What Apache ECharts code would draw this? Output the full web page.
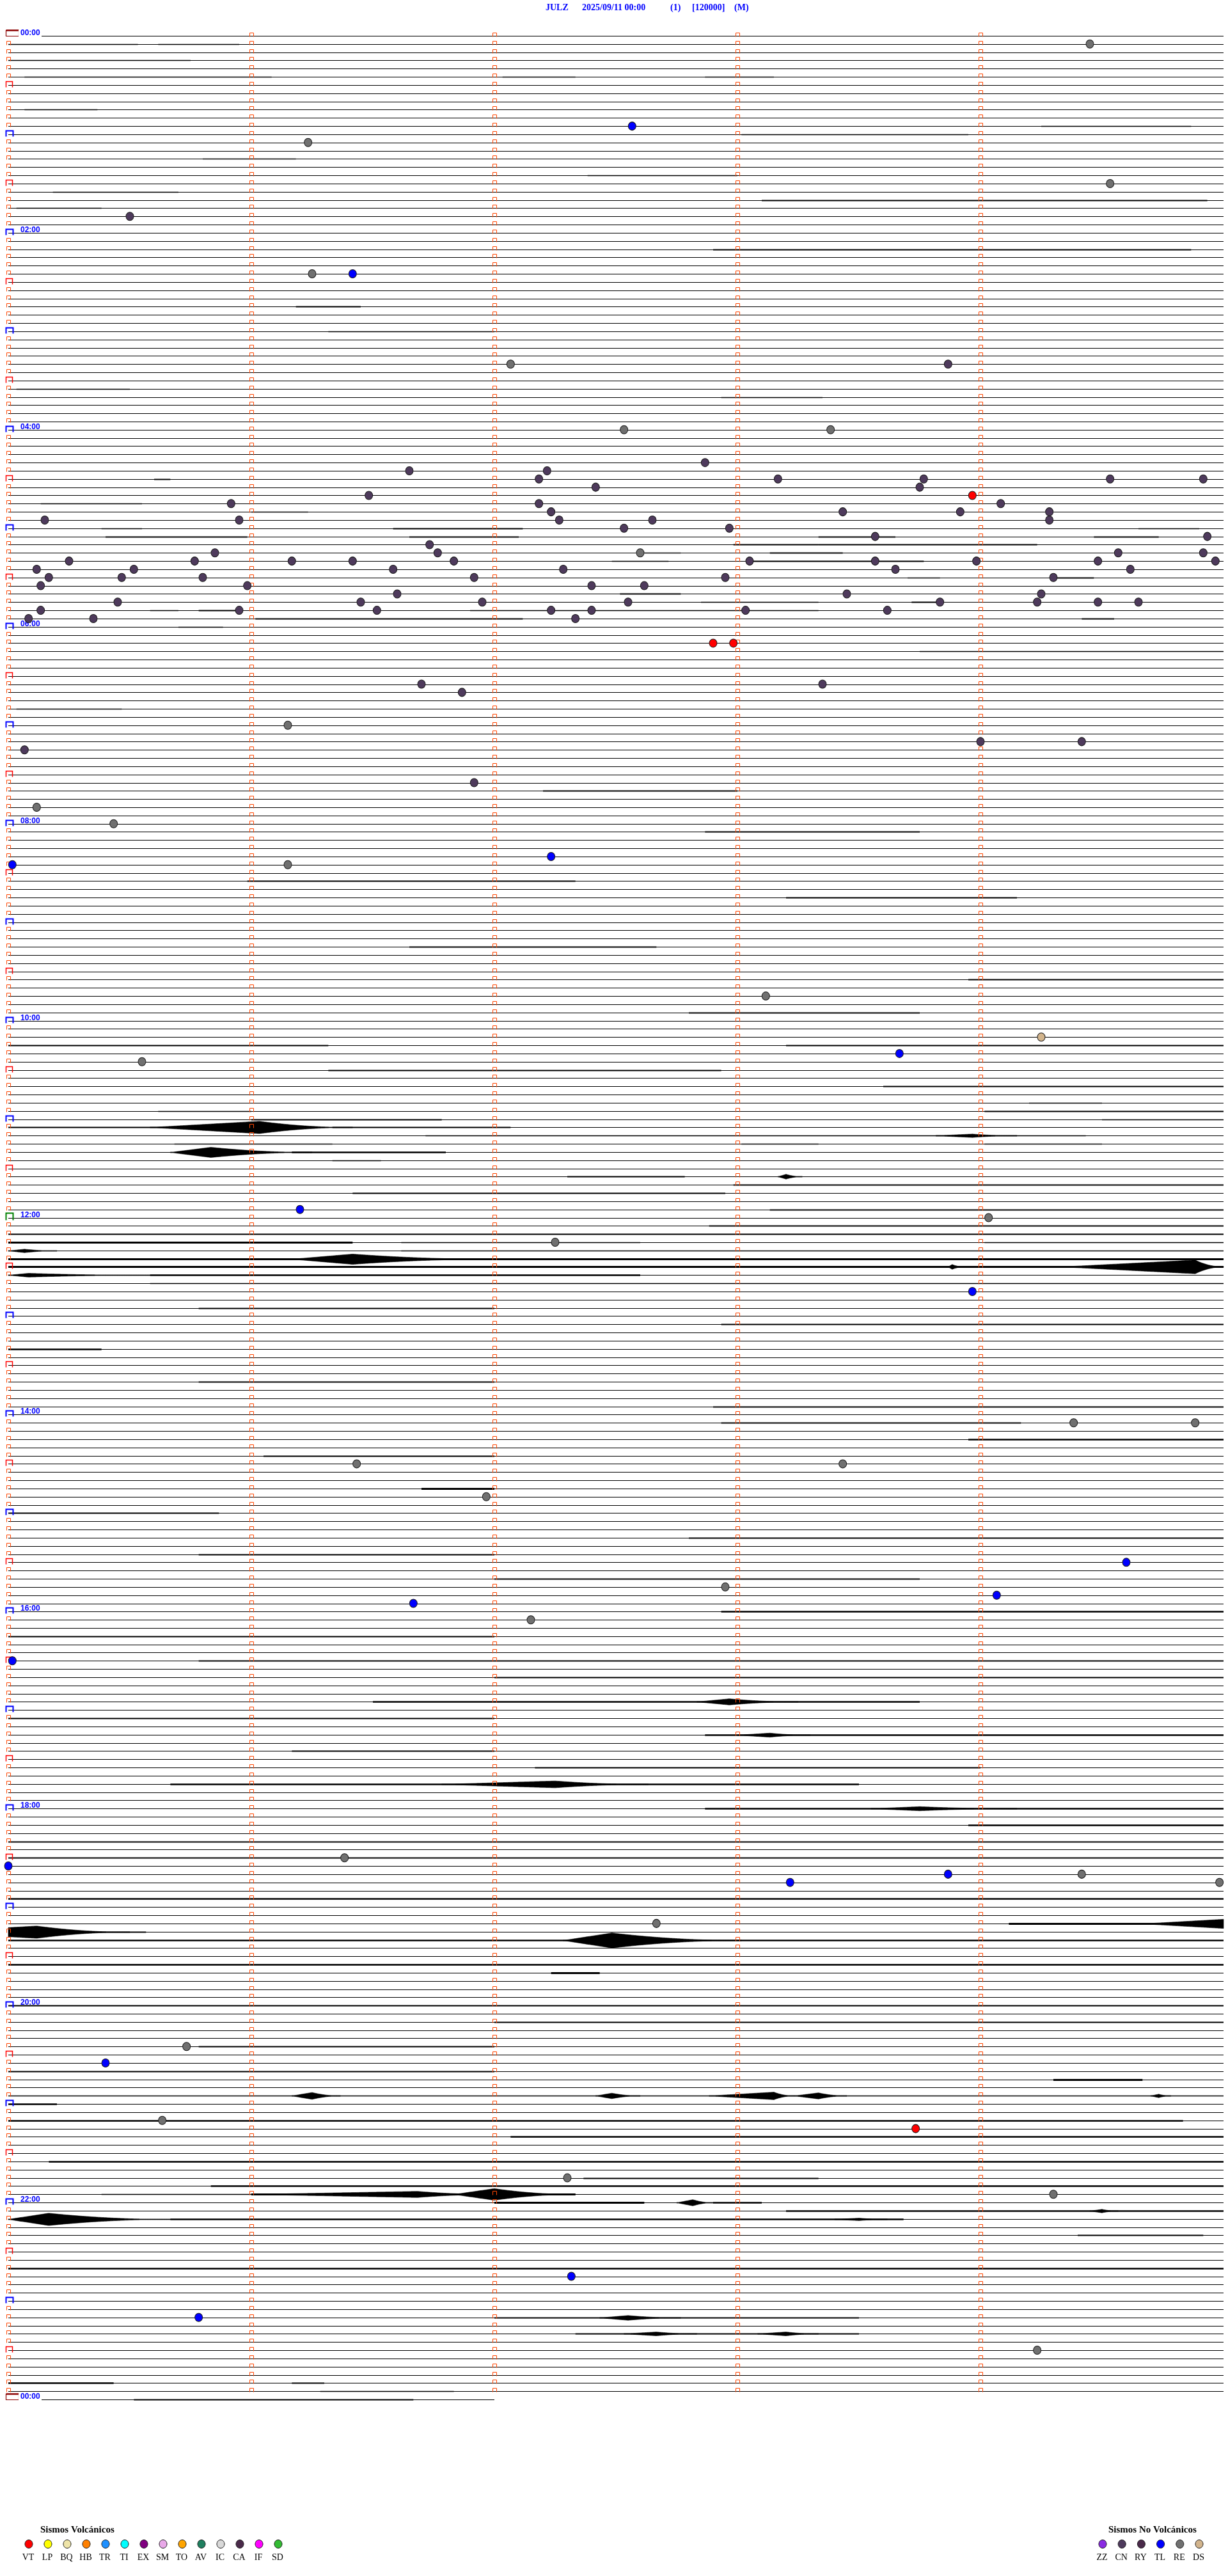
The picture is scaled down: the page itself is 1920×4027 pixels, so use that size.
<!DOCTYPE html>
<html>
<head>
<meta charset="utf-8">
<title>JULZ 2025/09/11</title>
<script src="https://cdn.jsdelivr.net/npm/echarts@6/dist/echarts.min.js"></script>
<style>
  html, body { margin: 0; padding: 0; background: #fff; }
  #chart { width: 1920px; height: 4027px; }
</style>
</head>
<body>
<div id="chart"></div>
<script>
// ---- datos del helicorder ----
const titleParts = ['JULZ', '2025/09/11 00:00', '(1)', '[120000]', '(M)'];
const traceStart = '00:00:00';
const traceEnd = '24:02:00';
const hourLabels = ['00:00', '02:00', '04:00', '06:00', '08:00', '10:00', '12:00',
  '14:00', '16:00', '18:00', '20:00', '22:00', '00:00'];

const volcanicCodes = ['VT', 'LP', 'BQ', 'HB', 'TR', 'TI', 'EX', 'SM', 'TO', 'AV', 'IC', 'CA', 'IF', 'SD'];
const volcanicColors = ['#ff0000', '#ffff00', '#eee4a8', '#ff8000', '#1e90ff', '#00ffff', '#800080',
  '#e8a8e8', '#ffa500', '#1f7f5f', '#d8d8d8', '#4a2a4a', '#ff00ff', '#33bb33'];
const otherCodes = ['ZZ', 'CN', 'RY', 'TL', 'RE', 'DS'];
const otherColors = ['#8a2be2', '#4e3a5c', '#4a2a4a', '#0000ff', '#707070', '#d2b48c'];

// eventos clasificados [hora, tipo]
const events = [
  ['00:09:27', 'RE'], ['00:57:34', 'TL'], ['01:06:14', 'RE'], ['01:34:32', 'RE'], ['01:50:30', 'CN'],
  ['02:26:15', 'RE'], ['02:26:25', 'TL'], ['03:22:04', 'RE'], ['03:23:52', 'CN'], ['04:02:32', 'RE'],
  ['04:03:23', 'RE'], ['04:22:52', 'CN'], ['04:26:39', 'CN'], ['04:27:13', 'CN'], ['04:32:11', 'CN'],
  ['04:33:10', 'CN'], ['04:33:46', 'CN'], ['04:34:32', 'CN'], ['04:34:55', 'CN'], ['04:37:25', 'CN'],
  ['04:38:45', 'CN'], ['04:41:29', 'CN'], ['04:43:58', 'VT'], ['04:45:55', 'CN'], ['04:47:11', 'CN'],
  ['04:49:05', 'CN'], ['04:52:14', 'CN'], ['04:53:26', 'CN'], ['04:53:55', 'CN'], ['04:54:17', 'CN'],
  ['04:55:09', 'CN'], ['04:55:57', 'CN'], ['04:57:16', 'CN'], ['04:57:39', 'CN'], ['04:59:17', 'CN'],
  ['05:02:32', 'CN'], ['05:02:58', 'CN'], ['05:08:34', 'CN'], ['05:09:56', 'CN'], ['05:11:44', 'CN'],
  ['05:15:51', 'CN'], ['05:16:46', 'CN'], ['05:17:36', 'RE'], ['05:19:34', 'CN'], ['05:19:55', 'CN'],
  ['05:20:15', 'CN'], ['05:20:46', 'CN'], ['05:21:10', 'CN'], ['05:21:25', 'CN'], ['05:21:50', 'CN'],
  ['05:23:03', 'CN'], ['05:23:34', 'CN'], ['05:23:59', 'CN'], ['05:24:29', 'CN'], ['05:24:58', 'CN'],
  ['05:25:07', 'CN'], ['05:25:31', 'CN'], ['05:26:35', 'CN'], ['05:27:17', 'CN'], ['05:28:39', 'CN'],
  ['05:29:37', 'CN'], ['05:30:10', 'CN'], ['05:30:28', 'CN'], ['05:30:48', 'CN'], ['05:31:55', 'CN'],
  ['05:32:57', 'CN'], ['05:34:18', 'CN'], ['05:35:08', 'CN'], ['05:35:59', 'CN'], ['05:37:24', 'CN'],
  ['05:37:37', 'CN'], ['05:41:36', 'CN'], ['05:43:27', 'CN'], ['05:44:15', 'CN'], ['05:45:27', 'CN'],
  ['05:46:27', 'CN'], ['05:46:57', 'CN'], ['05:47:33', 'CN'], ['05:48:50', 'CN'], ['05:49:14', 'CN'],
  ['05:49:29', 'CN'], ['05:49:39', 'CN'], ['05:50:08', 'CN'], ['05:50:57', 'CN'], ['05:51:31', 'CN'],
  ['05:52:14', 'CN'], ['05:52:24', 'CN'], ['05:53:02', 'CN'], ['05:53:37', 'CN'], ['05:55:05', 'CN'],
  ['05:55:21', 'CN'], ['05:57:20', 'CN'], ['06:12:54', 'VT'], ['06:12:59', 'VT'], ['06:36:42', 'CN'],
  ['06:38:21', 'CN'], ['06:41:52', 'CN'], ['07:01:09', 'RE'], ['07:14:00', 'CN'], ['07:14:25', 'CN'],
  ['07:15:04', 'CN'], ['07:36:55', 'CN'], ['07:50:07', 'RE'], ['08:00:26', 'RE'], ['08:22:14', 'TL'],
  ['08:25:01', 'TL'], ['08:26:09', 'RE'], ['09:48:07', 'RE'], ['10:14:15', 'DS'], ['10:23:40', 'TL'],
  ['10:25:33', 'RE'], ['11:56:12', 'TL'], ['12:04:02', 'RE'], ['12:17:15', 'RE'], ['12:48:58', 'TL'],
  ['14:09:23', 'RE'], ['14:09:53', 'RE'], ['14:31:26', 'RE'], ['14:33:26', 'RE'], ['14:51:58', 'RE'],
  ['15:34:36', 'TL'], ['15:47:57', 'RE'], ['15:54:04', 'TL'], ['15:56:40', 'TL'], ['16:07:09', 'RE'],
  ['16:30:01', 'TL'], ['18:31:23', 'RE'], ['18:35:00', 'TL'], ['18:43:52', 'TL'], ['18:44:25', 'RE'],
  ['18:48:13', 'TL'], ['18:49:59', 'RE'], ['19:12:40', 'RE'], ['20:25:44', 'RE'], ['20:35:24', 'TL'],
  ['21:10:38', 'RE'], ['21:18:44', 'VT'], ['21:47:18', 'RE'], ['21:59:18', 'RE'], ['22:47:19', 'TL'],
  ['23:10:47', 'TL'], ['23:34:14', 'RE']
];

// señales: [inicio, pico, fin, amplitud en cuentas]
const bursts = [
  ['11:05:35', '11:06:02', '11:06:25', 90000], ['11:13:49', '11:13:58', '11:14:09', 25000],
  ['11:20:40', '11:20:50', '11:21:15', 75000], ['11:38:10', '11:38:12', '11:38:16', 35000],
  ['12:20:00', '12:20:04', '12:20:12', 25000], ['12:26:10', '12:26:25', '12:27:00', 75000],
  ['12:33:52', '12:33:53', '12:33:56', 35000], ['12:34:20', '12:34:53', '12:35:00', 100000],
  ['12:35:00', '12:35:05', '12:35:35', 28000], ['16:57:50', '16:57:58', '16:58:15', 45000],
  ['17:18:00', '17:18:08', '17:18:18', 30000], ['17:46:47', '17:47:15', '17:47:38', 50000],
  ['18:03:33', '18:03:45', '18:04:09', 30000], ['19:14:40', '19:15:07', '19:15:30', 90000],
  ['19:22:17', '19:22:29', '19:23:01', 110000], ['20:56:10', '20:56:15', '20:56:22', 50000],
  ['20:57:25', '20:57:29', '20:57:36', 40000], ['20:57:53', '20:58:09', '20:58:14', 55000],
  ['20:58:14', '20:58:20', '20:58:27', 45000], ['20:59:42', '20:59:44', '20:59:47', 25000],
  ['21:56:00', '21:56:41', '21:57:00', 45000], ['21:56:50', '21:57:00', '21:57:20', 85000],
  ['22:02:45', '22:02:49', '22:02:54', 45000], ['22:09:27', '22:09:30', '22:09:34', 25000],
  ['22:10:00', '22:10:10', '22:10:40', 90000], ['22:13:24', '22:13:30', '22:13:37', 18000],
  ['23:12:26', '23:12:33', '23:12:46', 35000], ['23:22:32', '23:22:40', '23:22:50', 28000],
  ['23:23:05', '23:23:12', '23:23:20', 28000]
];

// ruido de fondo: [inicio, fin, amplitud en cuentas]
const noise = [
  ['00:05:00', '00:05:32', 8000], ['00:05:37', '00:05:57', 8000], ['00:15:00', '00:15:45', 8000],
  ['00:25:04', '00:26:05', 8000], ['00:27:02', '00:27:20', 8000], ['00:27:52', '00:28:09', 8000],
  ['00:45:04', '00:45:22', 8000], ['00:59:15', '00:59:52', 8000], ['01:03:01', '01:03:57', 8000],
  ['01:15:48', '01:16:11', 8000], ['01:27:23', '01:28:00', 8000], ['01:35:11', '01:35:42', 8000],
  ['01:43:06', '01:44:56', 9000], ['01:45:02', '01:45:23', 8000], ['02:12:54', '02:14:52', 9000],
  ['02:46:11', '02:46:27', 10000], ['03:01:19', '03:02:00', 8000], ['03:35:02', '03:35:30', 8000],
  ['03:42:56', '03:43:21', 8000], ['04:30:36', '04:30:40', 9000], ['04:45:08', '04:45:33', 8000],
  ['04:51:00', '04:51:14', 8000], ['05:00:23', '05:00:33', 8000], ['05:01:35', '05:02:07', 10000],
  ['05:04:39', '05:04:54', 8000], ['05:05:24', '05:05:59', 9000], ['05:06:39', '05:07:06', 9000],
  ['05:08:20', '05:08:39', 9000], ['05:09:28', '05:09:44', 9000], ['05:12:59', '05:13:20', 9000],
  ['05:13:20', '05:14:14', 10000], ['05:17:37', '05:17:46', 8000], ['05:18:08', '05:18:26', 9000],
  ['05:22:29', '05:22:43', 8000], ['05:23:03', '05:23:46', 10000], ['05:33:42', '05:33:50', 8000],
  ['05:34:18', '05:34:28', 10000], ['05:42:31', '05:42:46', 9000], ['05:47:51', '05:48:20', 8000],
  ['05:48:43', '05:48:50', 9000], ['05:50:35', '05:50:42', 8000], ['05:50:47', '05:50:57', 9000],
  ['05:51:54', '05:53:20', 7000], ['05:56:01', '05:56:39', 9000], ['05:56:39', '05:57:07', 9000],
  ['05:59:25', '05:59:33', 9000], ['06:00:42', '06:00:53', 7000], ['06:18:45', '06:20:00', 8000],
  ['06:50:02', '06:50:28', 8000], ['07:42:12', '07:43:00', 9000], ['08:07:52', '08:08:45', 9000],
  ['08:35:59', '08:37:20', 9000], ['08:48:12', '08:49:09', 9000], ['09:16:39', '09:17:40', 9000],
  ['09:38:57', '09:40:00', 9000], ['09:57:48', '09:58:45', 9000], ['10:15:00', '10:16:19', 10000],
  ['10:18:12', '10:20:00', 10000], ['10:31:19', '10:32:56', 10000], ['10:43:36', '10:45:00', 10000],
  ['10:54:12', '10:54:30', 8000], ['10:55:37', '10:56:00', 8000], ['10:59:01', '11:00:00', 9000],
  ['11:01:00', '11:01:47', 9000], ['11:04:30', '11:05:00', 8000], ['11:05:00', '11:05:41', 10000],
  ['11:06:20', '11:07:04', 9000], ['11:11:43', '11:14:26', 7000], ['11:15:41', '11:16:20', 8000],
  ['11:18:01', '11:18:20', 8000], ['11:19:01', '11:19:30', 8000], ['11:21:10', '11:21:48', 12000],
  ['11:26:20', '11:26:32', 8000], ['11:37:18', '11:37:47', 10000], ['11:42:59', '11:45:00', 10000],
  ['11:46:25', '11:47:57', 10000], ['11:58:08', '12:00:00', 9000], ['12:07:53', '12:10:00', 10000],
  ['12:10:00', '12:15:00', 10000], ['12:15:00', '12:16:25', 13000], ['12:16:37', '12:17:36', 8000],
  ['12:19:01', '12:20:00', 8000], ['12:21:37', '12:25:00', 8000], ['12:25:00', '12:30:00', 13000],
  ['12:30:00', '12:35:00', 13000], ['12:35:35', '12:37:36', 11000], ['12:40:35', '12:45:00', 8000],
  ['12:55:47', '12:57:00', 10000], ['13:07:56', '13:10:00', 10000], ['13:20:00', '13:20:23', 12000],
  ['13:40:47', '13:42:00', 10000], ['13:57:54', '14:00:00', 10000], ['14:07:56', '14:09:10', 10000],
  ['14:18:57', '14:20:00', 12000], ['14:26:03', '14:27:00', 10000], ['14:46:42', '14:47:00', 14000],
  ['15:00:00', '15:00:52', 10000], ['15:17:48', '15:20:00', 10000], ['15:25:47', '15:27:00', 10000],
  ['15:42:00', '15:43:45', 9000], ['16:02:56', '16:05:00', 12000], ['16:15:00', '16:17:00', 10000],
  ['16:30:47', '16:35:00', 9000], ['16:42:00', '16:45:00', 10000], ['16:56:30', '16:58:45', 12000],
  ['17:05:00', '17:07:00', 10000], ['17:17:52', '17:20:00', 12000], ['17:26:10', '17:27:00', 10000],
  ['17:37:10', '17:39:00', 10000], ['17:45:40', '17:48:30', 12000], ['18:02:52', '18:05:00', 12000],
  ['18:13:57', '18:15:00', 12000], ['18:20:00', '18:25:00', 10000], ['18:30:00', '18:35:00', 9000],
  ['18:55:00', '19:00:00', 11000], ['19:14:07', '19:15:00', 14000], ['19:15:15', '19:15:34', 9000],
  ['19:20:00', '19:25:00', 12000], ['19:35:00', '19:40:00', 12000], ['19:42:14', '19:42:26', 14000],
  ['20:00:00', '20:05:00', 10000], ['20:12:00', '20:15:00', 9000], ['20:25:47', '20:27:00', 9000],
  ['20:40:00', '20:42:00', 9000], ['20:49:18', '20:49:40', 13000], ['20:55:00', '21:00:00', 7000],
  ['21:00:00', '21:00:12', 11000], ['21:10:00', '21:14:50', 12000], ['21:22:04', '21:25:00', 11000],
  ['21:35:10', '21:40:00', 11000], ['21:47:22', '21:48:20', 9000], ['21:50:50', '21:55:00', 11000],
  ['21:55:23', '21:56:00', 8000], ['21:56:00', '21:57:20', 15000], ['22:02:00', '22:02:37', 13000],
  ['22:02:54', '22:03:06', 11000], ['22:08:12', '22:10:00', 11000], ['22:10:40', '22:13:41', 11000],
  ['22:24:24', '22:24:55', 9000], ['22:40:00', '22:45:00', 12000], ['23:12:00', '23:13:30', 10000],
  ['23:22:20', '23:23:30', 10000], ['23:50:00', '23:50:26', 12000], ['23:51:10', '23:51:18', 10000],
  ['23:56:17', '23:56:50', 7000], ['24:00:31', '24:01:40', 10000]
];

// ---- construccion ----
const ROW_SEC = 300;      // 5 min por traza
const ROWS = 288;         // 24 h
const SCALE = 120000;     // cuentas por separacion de traza

function hms(s) {
  const p = s.split(':').map(Number);
  return p[0] * 3600 + p[1] * 60 + p[2];
}

// parte un intervalo absoluto en trozos por traza: [fila, s0, s1]
function rowPieces(t0, t1) {
  const out = [];
  let t = t0;
  while (t < t1) {
    const r = Math.floor(t / ROW_SEC);
    const end = Math.min(t1, (r + 1) * ROW_SEC);
    out.push([r, t - r * ROW_SEC, end - r * ROW_SEC]);
    t = end;
  }
  return out;
}

const typeColor = {};
volcanicCodes.forEach((c, i) => typeColor[c] = volcanicColors[i]);
otherCodes.forEach((c, i) => typeColor[c] = otherColors[i]);

const baseData = rowPieces(hms(traceStart), hms(traceEnd));

const noiseData = [];
noise.forEach(n => {
  rowPieces(hms(n[0]), hms(n[1])).forEach(p => noiseData.push([p[0], p[1], p[2], n[2]]));
});

const burstObjs = bursts.map(b => ({ start: hms(b[0]), peak: hms(b[1]), end: hms(b[2]), amp: b[3] }));
const burstData = [];
burstObjs.forEach((b, i) => {
  rowPieces(b.start, b.end).forEach(p => burstData.push([p[0], p[1], p[2], i]));
});

function envelope(b, t) {
  if (t <= b.start || t >= b.end) return 0;
  if (t <= b.peak) return b.amp * (t - b.start) / Math.max(b.peak - b.start, 0.5);
  const u = (t - b.peak) / (b.end - b.peak);
  return b.amp * Math.pow(1 - u, 2);
}

// marcas de minuto en cada traza
const tickData = [];
for (let r = 0; r <= ROWS; r++) {
  const maxMin = r === ROWS ? 0 : 4;
  for (let m = 0; m <= maxMin; m++) {
    let kind = 'min';
    if (m === 0) {
      if (r === 0 || r === ROWS) kind = 'start';
      else if (r % 12 === 0) kind = r === 144 ? 'noon' : 'hour';
      else if (r % 6 === 0) kind = 'half';
    }
    tickData.push([m * 60, r, kind]);
  }
}

const eventData = events.map(e => {
  const t = hms(e[0]);
  return { value: [t % ROW_SEC, Math.floor(t / ROW_SEC)], itemStyle: { color: typeColor[e[1]] } };
});

const hourData = hourLabels.map((h, i) => [0, i * 24]);

function lineY(api, sec, row) {
  const c = api.coord([sec, row]);
  return [c[0], Math.round(c[1]) + 0.5];
}

const chart = echarts.init(document.getElementById('chart'));

const graphics = [];
const titleX = [853, 910, 1048, 1082, 1148];
titleParts.forEach((t, i) => {
  graphics.push({
    type: 'text', left: titleX[i], top: 5,
    style: { text: t, fill: '#0000ff', font: 'bold 14px "Liberation Serif", serif' }
  });
});

function legendBlock(title, titleLeft, codes, colors, x0, step) {
  graphics.push({
    type: 'text', left: titleLeft, top: 3948,
    style: { text: title, fill: '#000', font: 'bold 15px "Liberation Serif", serif' }
  });
  codes.forEach((c, i) => {
    const cx = x0 + step * i;
    graphics.push({
      type: 'ellipse', shape: { cx: cx, cy: 3977, rx: 6, ry: 6.5 },
      style: { fill: colors[i], stroke: '#1a1a1a', lineWidth: 1 }
    });
    graphics.push({
      type: 'text', x: cx - 1, y: 3998,
      style: { text: c, fill: '#000', font: '14px "Liberation Serif", serif', align: 'center', verticalAlign: 'middle' }
    });
  });
}
legendBlock('Sismos Volcánicos', 63, volcanicCodes, volcanicColors, 45, 30);
legendBlock('Sismos No Volcánicos', 1733, otherCodes, otherColors, 1724, 30.2);

const option = {
  animation: false,
  backgroundColor: '#fff',
  grid: { left: 13, right: 7, top: 56, bottom: 276 },
  xAxis: { type: 'value', min: 0, max: ROW_SEC, show: false },
  yAxis: { type: 'value', min: 0, max: ROWS, inverse: true, show: false },
  graphic: graphics,
  series: [
    {
      // trazas base
      type: 'custom', name: 'base', z: 1, silent: true,
      data: baseData,
      renderItem: function (params, api) {
        const r = api.value(0);
        const a = lineY(api, api.value(1), r), b = lineY(api, api.value(2), r);
        return { type: 'line', shape: { x1: a[0], y1: a[1], x2: b[0], y2: b[1] }, style: { stroke: '#000', lineWidth: 1 } };
      }
    },
    {
      // ruido de fondo
      type: 'custom', name: 'ruido', z: 2, silent: true,
      data: noiseData,
      renderItem: function (params, api) {
        const r = api.value(0);
        const a = lineY(api, api.value(1), r), b = lineY(api, api.value(2), r);
        const px = api.size([0, 1])[1];
        const h = Math.max(0.6, api.value(3) / SCALE * px);
        return { type: 'rect', shape: { x: a[0], y: a[1] - h, width: Math.max(1, b[0] - a[0]), height: 2 * h }, style: { fill: '#000' } };
      }
    },
    {
      // sismos registrados
      type: 'custom', name: 'senal', z: 3, silent: true,
      data: burstData,
      renderItem: function (params, api) {
        const r = api.value(0), s0 = api.value(1), s1 = api.value(2);
        const b = burstObjs[api.value(3)];
        const px = api.size([0, 1])[1];
        const top = [], bottom = [];
        for (let s = s0; s <= s1 + 1e-6; s += 0.25) {
          const p = lineY(api, s, r);
          const h = Math.max(0.6, envelope(b, r * ROW_SEC + s) / SCALE * px);
          top.push([p[0], p[1] - h]);
          bottom.push([p[0], p[1] + h]);
        }
        return { type: 'polygon', shape: { points: top.concat(bottom.reverse()) }, style: { fill: '#000', stroke: '#000', lineWidth: 0.6 } };
      }
    },
    {
      // marcas de minuto
      type: 'custom', name: 'marcas', z: 4, silent: true,
      data: tickData,
      renderItem: function (params, api) {
        const d = tickData[params.dataIndex];
        const p = lineY(api, d[0], d[1]);
        const x = Math.round(p[0]) + 0.5, y = p[1];
        if (d[2] === 'start') {
          return {
            type: 'group', children: [
              { type: 'rect', shape: { x: x - 4, y: y - 9, width: 20, height: 9 }, style: { fill: '#fff', stroke: '#8b0000', lineWidth: 1.2 } },
              { type: 'line', shape: { x1: x - 4, y1: y - 9, x2: x + 16, y2: y - 9 }, style: { stroke: '#8b0000', lineWidth: 2.5 } }
            ]
          };
        }
        let x0 = x - 3, x1 = x + 3, yt = y - 5, yb = y + 1, col = '#ff4500', lw = 1;
        if (d[2] === 'half') { x0 = x - 4; x1 = x + 6; yt = y - 6; yb = y + 3; col = '#ff0000'; lw = 1.5; }
        if (d[2] === 'hour') { x0 = x - 4; x1 = x + 7; yt = y - 6; yb = y + 3; col = '#0000ff'; lw = 2; }
        if (d[2] === 'noon') { x0 = x - 4; x1 = x + 7; yt = y - 8; yb = y + 3; col = '#008000'; lw = 2; }
        return {
          type: 'polyline',
          shape: { points: [[x0, yb], [x0, yt], [x1, yt], [x1, yb]] },
          style: { stroke: col, lineWidth: lw, fill: 'none' }
        };
      }
    },
    {
      // etiquetas de hora
      type: 'custom', name: 'horas', z: 5, silent: true,
      data: hourData,
      renderItem: function (params, api) {
        const p = lineY(api, api.value(0), api.value(1));
        const text = hourLabels[params.dataIndex];
        const children = [];
        if (text === '00:00') {
          children.push({ type: 'rect', shape: { x: p[0] + 16, y: p[1] - 10, width: 36, height: 11.5 }, style: { fill: '#fff' } });
        }
        children.push({
          type: 'text', x: p[0] + 19, y: p[1] - 5,
          style: { text: text, fill: '#0000ff', font: 'bold 12px "Liberation Sans", Arial, sans-serif', align: 'left', verticalAlign: 'middle' }
        });
        return { type: 'group', children: children };
      }
    },
    {
      // eventos clasificados
      type: 'scatter', name: 'eventos', z: 6, silent: true, clip: false,
      symbol: 'circle', symbolSize: [12, 13],
      itemStyle: { borderColor: '#1a1a1a', borderWidth: 1, opacity: 1 },
      data: eventData
    }
  ]
};

chart.setOption(option);
window.addEventListener('resize', function () { chart.resize(); });
</script>
</body>
</html>
